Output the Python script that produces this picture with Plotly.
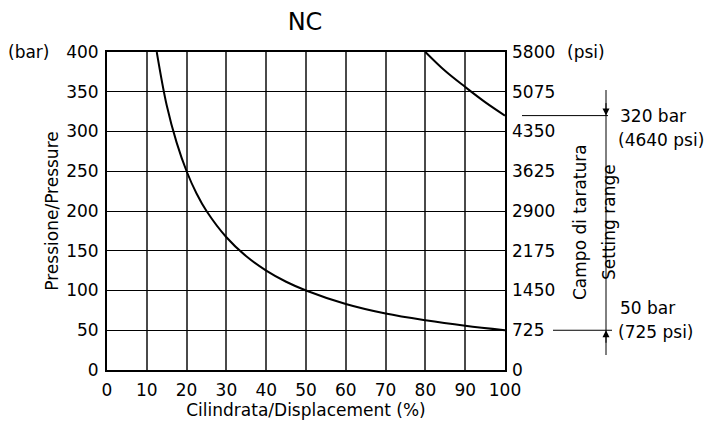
import plotly.graph_objects as go

# Data
disp_low = [12.5, 15, 17.5, 20, 22.5, 25, 30, 35, 40, 45, 50, 60, 70, 80, 90, 100]
pres_low = [400, 333, 286, 250, 222, 200, 167, 143, 125, 111, 100, 83, 71, 62.5, 55.6, 50]
disp_high = [80, 85, 90, 95, 100]
pres_high = [400, 376, 356, 337, 320]
x_ticks = [0, 10, 20, 30, 40, 50, 60, 70, 80, 90, 100]
bar_ticks = [0, 50, 100, 150, 200, 250, 300, 350, 400]
psi_ticks = [0, 725, 1450, 2175, 2900, 3625, 4350, 5075, 5800]
setting_max = 320
setting_min = 50

FONT = "DejaVu Sans"
FS = 17
OFF = 8  # page body margin of the browser
FW, FH = 714 - OFF, 423 - OFF
L, T, W, H = 107 - OFF, 52 - OFF, 398, 318


def px(xp):
    return (xp - OFF - L) / W


def py(yp):
    return (T + H - (yp - OFF)) / H


fig = go.Figure()
fig.add_trace(go.Scatter(x=disp_low, y=pres_low, mode="lines", line=dict(color="black", width=2, shape="spline"), showlegend=False))
fig.add_trace(go.Scatter(x=disp_high, y=pres_high, mode="lines", line=dict(color="black", width=2, shape="spline"), showlegend=False))
fig.add_trace(go.Scatter(x=[0], y=[0], yaxis="y2", mode="markers", marker=dict(opacity=0), showlegend=False, hoverinfo="skip"))

fig.update_layout(
    width=FW, height=FH,
    margin=dict(l=L, r=FW - L - W, t=T, b=FH - T - H, autoexpand=False),
    paper_bgcolor="white", plot_bgcolor="white",
    font=dict(family=FONT, size=FS, color="black"),
    title=dict(text="NC", x=(305 - OFF) / FW, xanchor="center", y=1 - (22 - OFF) / FH, yanchor="middle", font=dict(size=24)),
    xaxis=dict(range=[0, 100], tickvals=x_ticks, showgrid=True, gridcolor="#4a4a4a", gridwidth=1.5,
               showline=True, linecolor="black", linewidth=2, mirror=True, zeroline=False,
               ticks="", ticklabelstandoff=4, automargin=False,
               title=dict(text="Cilindrata/Displacement (%)", standoff=4, font=dict(size=FS))),
    yaxis=dict(range=[0, 400], tickvals=bar_ticks, showgrid=True, gridcolor="black", gridwidth=1,
               showline=True, linecolor="black", linewidth=2, mirror=True, zeroline=False,
               ticks="", ticklabelstandoff=3, automargin=False,
               title=dict(text="Pressione/Pressure", standoff=3, font=dict(size=FS))),
    yaxis2=dict(range=[0, 5800], tickvals=psi_ticks, overlaying="y", side="right", showgrid=False,
                zeroline=False, showline=False, ticks="", ticklabelstandoff=6, automargin=False),
)

fig.add_annotation(text="(bar)", xref="paper", yref="y", x=px(28), y=400, xanchor="center", showarrow=False, font=dict(family=FONT, size=FS))
fig.add_annotation(text="(psi)", xref="paper", yref="y", x=px(586), y=400, xanchor="center", showarrow=False, font=dict(family=FONT, size=FS))

# setting range marks
VX = px(606)
fig.add_shape(type="line", xref="paper", yref="y", x0=px(522), x1=px(608), y0=setting_max, y1=setting_max, line=dict(color="black", width=1))
fig.add_shape(type="line", xref="paper", yref="y", x0=px(553), x1=px(612), y0=setting_min, y1=setting_min, line=dict(color="black", width=1))
fig.add_shape(type="line", xref="paper", yref="paper", x0=VX, x1=VX, y0=py(90), y1=py(355), line=dict(color="black", width=1))
fig.add_annotation(xref="paper", yref="y", x=VX, y=setting_max, ax=0, ay=-14, text="", showarrow=True,
                   arrowhead=2, arrowsize=1.4, arrowwidth=1, arrowcolor="black")
fig.add_annotation(xref="paper", yref="y", x=VX, y=setting_min, ax=0, ay=14, text="", showarrow=True,
                   arrowhead=2, arrowsize=1.4, arrowwidth=1, arrowcolor="black")
fig.add_annotation(text=f"{setting_max} bar", xref="paper", yref="paper", x=px(618), y=py(104), xanchor="left", showarrow=False)
fig.add_annotation(text="(4640 psi)", xref="paper", yref="paper", x=px(616), y=py(128), xanchor="left", showarrow=False)
fig.add_annotation(text=f"{setting_min} bar", xref="paper", yref="paper", x=px(618), y=py(320), xanchor="left", showarrow=False)
fig.add_annotation(text="(725 psi)", xref="paper", yref="paper", x=px(616), y=py(344), xanchor="left", showarrow=False)
fig.add_annotation(text="Campo di taratura", xref="paper", yref="paper", x=px(592), y=py(222), textangle=-90, showarrow=False)
fig.add_annotation(text="Setting range", xref="paper", yref="paper", x=px(621), y=py(222), textangle=-90, showarrow=False)

fig.write_html("out.html")
